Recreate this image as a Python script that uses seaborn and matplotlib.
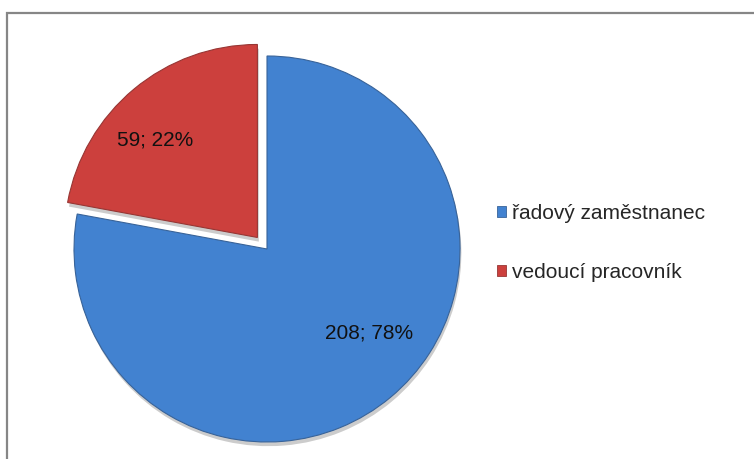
import matplotlib
matplotlib.use("Agg")
import matplotlib.pyplot as plt
import matplotlib.patheffects as pe
from matplotlib.patches import Patch, Rectangle
import numpy as np
import seaborn as sns

# Data
categories = ["vedoucí pracovník", "řadový zaměstnanec"]
counts = [59, 208]
percents = [22, 78]
colors = ["#cc403d", "#4282d0"]
legend_order = [1, 0]

sns.set_theme(style="white")
plt.rcParams["font.family"] = ["Liberation Sans", "DejaVu Sans"]

W, H = 754, 459
fig = plt.figure(figsize=(W / 100, H / 100), dpi=100)
ax = fig.add_axes([0, 0, 1, 1])

# Outer frame (runs off the right and bottom edges)
fig.patches.append(Rectangle((7 / W, -0.1), 1.2, (H - 13) / H + 0.1,
                             transform=fig.transFigure, fill=False,
                             edgecolor="#868686", linewidth=1.6))

cx, cy, r = 267, 459 - 249, 193
wedges, _ = ax.pie(counts, colors=colors, startangle=90, counterclock=True,
                   explode=[15, 0], radius=r, center=(cx, cy),
                   wedgeprops=dict(linewidth=0.8, edgecolor="#ffffff"),
                   frame=True)
ax.set_xlim(0, W)
ax.set_ylim(0, H)
ax.set_aspect("equal")
ax.axis("off")
for w, c in zip(wedges, colors):
    w.set_edgecolor(sns.dark_palette(c, n_colors=4)[2])
    w.set_path_effects([pe.SimplePatchShadow(offset=(1, -3), alpha=0.2,
                                             shadow_rgbFace="#000000"),
                        pe.Normal()])

# Data labels: "count; percent"
label_pos = [(155, 459 - 140), (369, 459 - 333)]
for (x, y), n, p in zip(label_pos, counts, percents):
    ax.text(x, y, f"{n}; {p}%", ha="center", va="center",
            fontsize=15, color="#111111")

handles = [Patch(facecolor=colors[i], edgecolor=sns.dark_palette(colors[i], n_colors=4)[2],
                 linewidth=0.6) for i in legend_order]
labels = [categories[i] for i in legend_order]
ax.legend(handles, labels, loc="upper left", bbox_to_anchor=(497 / W, 1 - 204 / H),
          bbox_transform=fig.transFigure, frameon=False, fontsize=15,
          handlelength=0.45, handleheight=0.45, handletextpad=0.27,
          labelspacing=1.9, borderpad=0, borderaxespad=0)

fig.savefig("out.png", dpi=100, facecolor="white")
